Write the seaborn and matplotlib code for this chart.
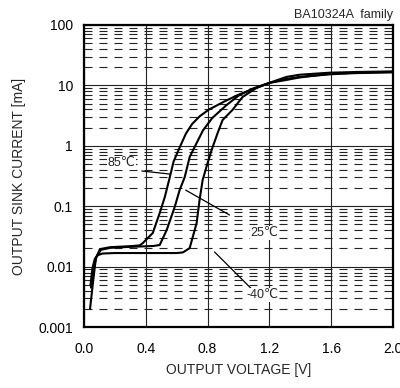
import numpy as np
import pandas as pd
import seaborn as sns
import matplotlib
matplotlib.use("Agg")
import matplotlib.pyplot as plt
from matplotlib.ticker import FixedLocator, FixedFormatter, NullFormatter

# values (V in volts, I in mA)
v_85 = [0.039, 0.06, 0.077, 0.103, 0.17, 0.25, 0.32, 0.361, 0.381, 0.445, 0.49, 0.523,
        0.555, 0.58, 0.62, 0.66, 0.70, 0.75, 0.81, 0.92, 1.0, 1.1, 1.2, 1.31, 1.394,
        1.587, 1.78, 2.0]
i_85 = [0.002, 0.006, 0.0139, 0.0195, 0.021, 0.0215, 0.022, 0.0225, 0.0246, 0.036, 0.0771,
        0.142, 0.30, 0.55, 0.95, 1.6, 2.3, 3.1, 4.0, 5.6, 7.0, 8.8, 11.0, 13.8, 15.0,
        16.2, 16.7, 17.0]

v_25 = [0.045, 0.06, 0.08, 0.11, 0.17, 0.25, 0.35, 0.45, 0.49, 0.535, 0.587, 0.619, 0.652,
        0.684, 0.72, 0.77, 0.83, 0.923, 1.006, 1.1, 1.2, 1.31, 1.394, 1.587, 1.78, 2.0]
i_25 = [0.0045, 0.0085, 0.0145, 0.019, 0.0205, 0.021, 0.0215, 0.022, 0.0228, 0.0403,
        0.097, 0.185, 0.304, 0.653, 1.0, 1.8, 2.88, 4.73, 6.93, 9.0, 11.0, 12.8, 13.8,
        15.2, 16.3, 16.8]

v_m40 = [0.042, 0.055, 0.07, 0.09, 0.12, 0.2, 0.4, 0.6, 0.64, 0.684, 0.729, 0.748, 0.768,
         0.8, 0.826, 0.865, 0.897, 0.961, 1.026, 1.116, 1.2, 1.31, 1.394, 1.587, 1.78, 2.0]
i_m40 = [0.005, 0.0095, 0.0135, 0.0155, 0.0165, 0.0168, 0.0168, 0.0168, 0.0172, 0.0203,
         0.0527, 0.127, 0.272, 0.519, 0.852, 1.63, 2.67, 3.92, 6.42, 9.06, 11.0, 12.3,
         13.5, 15.5, 16.0, 16.4]

x_ticks = [0.0, 0.4, 0.8, 1.2, 1.6, 2.0]
y_ticks = [0.001, 0.01, 0.1, 1, 10, 100]
y_tick_labels = ["0.001", "0.01", "0.1", "1", "10", "100"]

df = pd.concat([
    pd.DataFrame({"V": v_85, "I": i_85, "temp": "85"}),
    pd.DataFrame({"V": v_25, "I": i_25, "temp": "25"}),
    pd.DataFrame({"V": v_m40, "I": i_m40, "temp": "-40"}),
])

sns.set_style("white")
plt.rcParams["font.family"] = ["Liberation Sans", "DejaVu Sans"]

fig = plt.figure(figsize=(4.0, 3.88), dpi=100)
ax = fig.add_axes([0.21, 0.157, 0.7725, 0.7787])

ax.set_yscale("log")
ax.set_xlim(0, 2.0)
ax.set_ylim(0.001, 100)

# grid: solid majors, dashed minors on the y axis only
ax.xaxis.set_major_locator(FixedLocator(x_ticks))
ax.yaxis.set_major_locator(FixedLocator(y_ticks))
ax.yaxis.set_major_formatter(FixedFormatter(y_tick_labels))
ax.yaxis.set_minor_locator(FixedLocator(
    [m * 10.0 ** e for e in range(-3, 2) for m in range(2, 10)]))
ax.yaxis.set_minor_formatter(NullFormatter())
ax.set_xticklabels([f"{t:.1f}" for t in x_ticks])
ax.grid(True, which="major", color="#222222", linewidth=0.8)
ax.grid(True, which="minor", axis="y", color="#222222", linewidth=0.8,
        linestyle=(0, (7.2, 6.3)))
ax.set_axisbelow(True)

for name, sub in df.groupby("temp", sort=False):
    sns.lineplot(data=sub, x="V", y="I", ax=ax, color="black", linewidth=1.5,
                 sort=False, estimator=None, legend=False)

ax.tick_params(axis="both", which="both", length=0, labelsize=10, colors="black")
ax.tick_params(axis="x", pad=11)
ax.tick_params(axis="y", pad=8)
for s in ax.spines.values():
    s.set_linewidth(1.6)
    s.set_color("black")

ax.set_xlabel("OUTPUT VOLTAGE [V]", fontsize=10, labelpad=5)
ax.set_ylabel("OUTPUT SINK CURRENT [mA]", fontsize=10, labelpad=9)

# temperature labels with leader lines
box = dict(facecolor="white", edgecolor="none", pad=0.5)
ax.plot([0.374, 0.555], [0.383, 0.341], color="black", linewidth=0.9)
ax.text(0.245, 0.52, "85℃", fontsize=9, ha="center", va="center", bbox=box)
ax.plot([0.658, 0.942], [0.185, 0.0715], color="black", linewidth=0.9)
ax.text(1.168, 0.036, "25℃", fontsize=9, ha="center", va="center", bbox=box)
ax.plot([0.845, 1.084], [0.0175, 0.0043], color="black", linewidth=0.9)
ax.text(1.155, 0.0034, "-40℃", fontsize=9, ha="center", va="center", bbox=box)

fig.text(0.9825, 0.962, "BA10324A  family", fontsize=9, ha="right", va="center")

fig.savefig("out.png", dpi=100)
